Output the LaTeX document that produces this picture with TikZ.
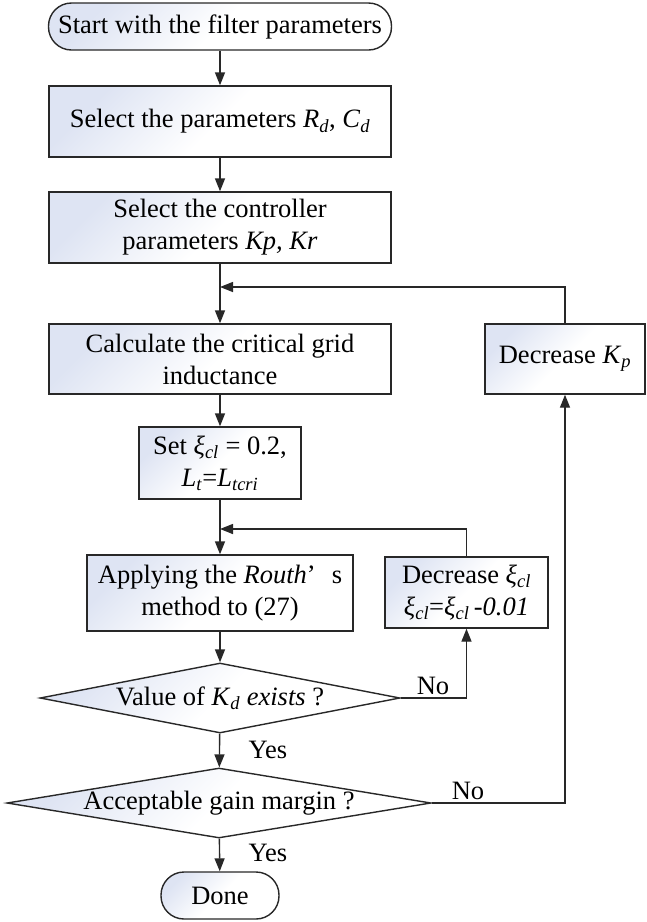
\documentclass[tikz,border=0pt]{standalone}
\usepackage{fontspec}
\setmainfont{Liberation Serif}
\usetikzlibrary{arrows.meta,shapes.geometric}

\definecolor{boxfill}{RGB}{222,228,243}
\definecolor{edge}{RGB}{40,40,40}

% italic symbol with italic subscript
\newcommand{\isub}[2]{\textit{#1}\textsubscript{\textit{#2}}}

\tikzset{
  base/.style={draw=edge, line width=1.4pt, top color=boxfill, bottom color=white,
    middle color=white, shading angle=45, inner sep=0pt, align=center,
    font=\fontsize{26.5}{32}\selectfont},
  procbox/.style={base, rectangle},
  termbox/.style={base, rectangle, rounded corners=23pt},
  decbox/.style={base, diamond},
  link/.style={draw=edge, line width=1.4pt},
  flow/.style={link, -{Triangle[length=13pt,width=10pt]}},
  tag/.style={font=\fontsize{26.5}{32}\selectfont, inner sep=0pt}
}

\begin{document}
\begin{tikzpicture}[x=1pt,y=-1pt]
  \fill[white] (0,0) rectangle (646,922);
  \useasboundingbox (0,0) rectangle (646,922);

  % main column
  \node[termbox, minimum width=343pt, minimum height=47pt] (start) at (220,26.5)
    {Start with the filter parameters};
  \node[procbox, minimum width=342pt, minimum height=71pt] (sel1) at (220,121.5)
    {Select the parameters \isub{R}{d}, \isub{C}{d}};
  \node[procbox, minimum width=342pt, minimum height=71pt] (sel2) at (220,227.5)
    {Select the controller\\parameters \textit{Kp, Kr}};
  \node[procbox, minimum width=342pt, minimum height=70pt] (calc) at (220,359)
    {Calculate the critical grid\\inductance};
  \node[procbox, minimum width=162pt, minimum height=72pt] (set) at (220,463)
    {Set \isub{ξ}{cl} = 0.2,\\\isub{L}{t}=\isub{L}{tcri}};
  \node[procbox, minimum width=266pt, minimum height=76pt] (apply) at (220,593)
    {Applying the \textit{Routh}’\hspace{16pt}s\\method to (27)};
  \node[decbox, minimum width=360pt, minimum height=70pt] (d1) at (220,698)
    {\makebox[0pt]{Value of \isub{K}{d} \textit{exists} ?}};
  \node[decbox, minimum width=424pt, minimum height=70pt] (d2) at (219,803)
    {\makebox[0pt]{Acceptable gain margin ?}};
  \node[termbox, minimum width=118pt, minimum height=47pt] (done) at (220,895.5)
    {Done};

  % side boxes
  \node[procbox, minimum width=160pt, minimum height=70pt] (deckp) at (565,359)
    {Decrease \isub{K}{p}};
  \node[procbox, minimum width=163pt, minimum height=71pt] (decxi) at (466.5,592.5)
    {Decrease \isub{ξ}{cl}\\\isub{ξ}{cl}=\isub{ξ}{cl}\,\textit{-0.01}};

  % merge points on the main column
  \coordinate (j1) at (220,287);
  \coordinate (j2) at (220,529);

  % connectors
  \draw[flow] (start) -- (sel1);
  \draw[flow] (sel1) -- (sel2);
  \draw[flow] (sel2) -- (calc);
  \draw[flow] (calc) -- (set);
  \draw[flow] (set) -- (apply);
  \draw[flow] (apply) -- (d1);
  \draw[flow] (d1) -- (d2);
  \draw[flow] (d2) -- (done);
  \draw[flow] (deckp.north) |- (j1);
  \draw[flow] (decxi.north) |- (j2);
  \draw[flow] (d1.east) -| (decxi.south);
  \draw[flow] (d2.east) -| (deckp.south);

  % branch labels
  \node[tag] (no1) at (433,686) {No};
  \node[tag] (no2) at (468,791) {No};
  \node[tag] (yes1) at (268,750) {Yes};
  \node[tag] (yes2) at (268,853) {Yes};
\end{tikzpicture}
\end{document}
